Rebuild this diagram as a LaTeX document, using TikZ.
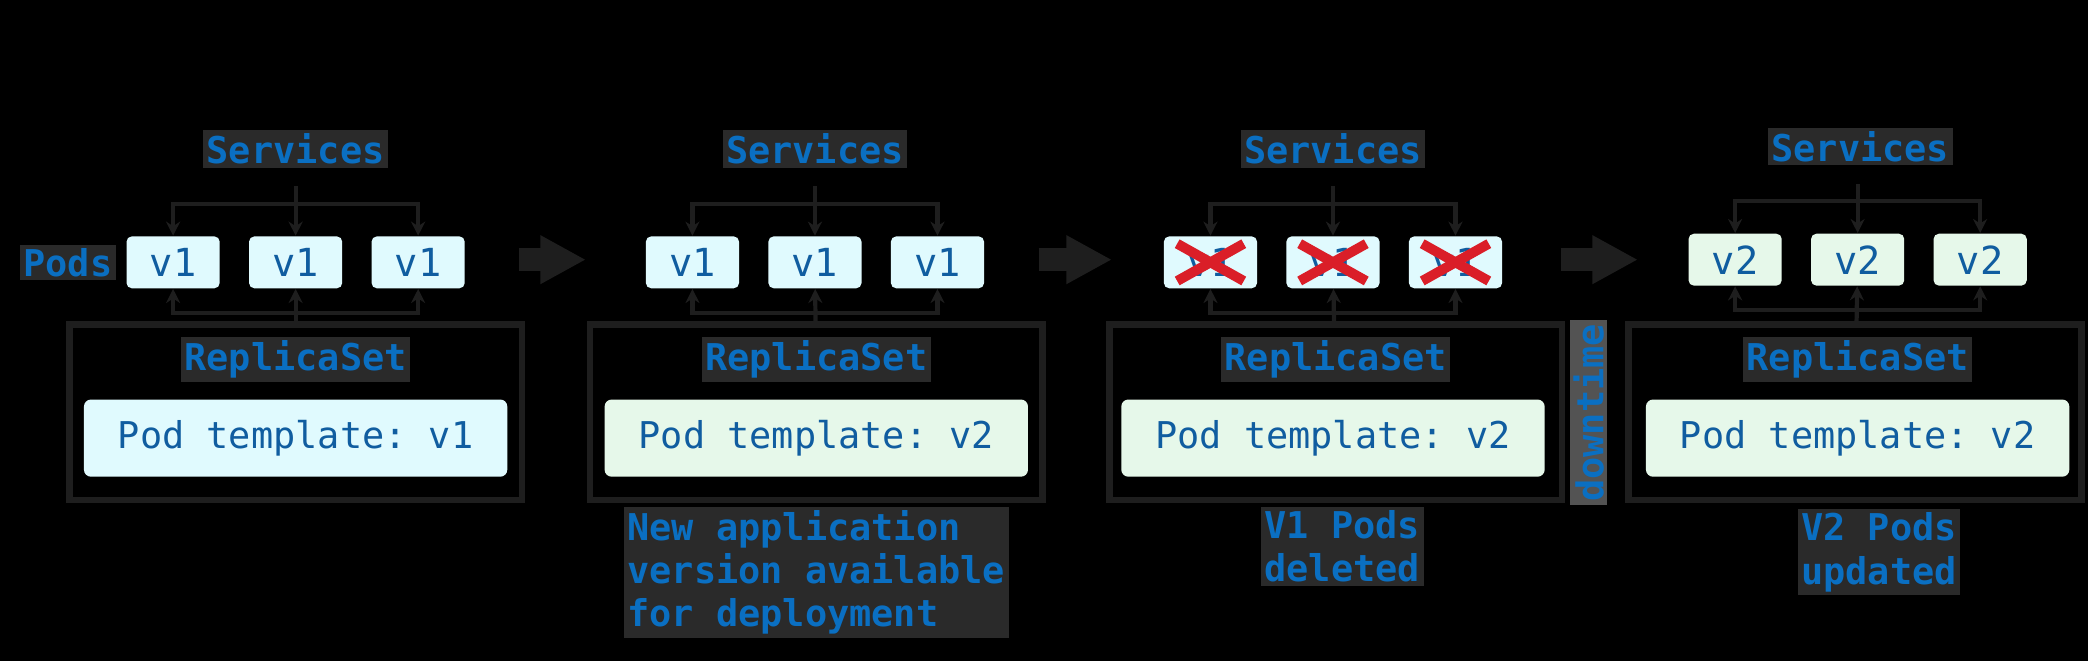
\documentclass[tikz,border=0pt]{standalone}
\usepackage{fontspec}
\setmonofont{DejaVu Sans Mono}
\usetikzlibrary{arrows.meta,positioning}
\definecolor{lblblue}{HTML}{0A6FC2}
\definecolor{podblue}{HTML}{105DA0}
\definecolor{cyanfill}{HTML}{E0FAFE}
\definecolor{greenfill}{HTML}{E6F8EA}
\definecolor{linegray}{HTML}{1E1E1E}
\definecolor{halo}{HTML}{2A2A2A}
\definecolor{xred}{HTML}{DA1E28}

\begin{document}
\begin{tikzpicture}[x=0.013316cm, y=-0.013316cm,
    every node/.style={font=\ttfamily\fontsize{10.5}{12.3}\selectfont},
    lbl/.style={text=lblblue, font=\ttfamily\bfseries\fontsize{10.5}{12.3}\selectfont, fill=halo, inner sep=1pt},
    pod/.style={fill=cyanfill, text=podblue, rounded corners=1.5pt, minimum width=0.932cm, minimum height=0.519cm, inner sep=0pt, font=\ttfamily\fontsize{11}{13}\selectfont},
    tmpl/.style={fill=cyanfill, text=podblue, rounded corners=2pt, minimum width=4.235cm, minimum height=0.772cm, inner sep=0pt},
    rs/.style={draw=linegray, line width=1.9pt, minimum width=4.53cm, minimum height=1.76cm},
    conn/.style={draw=linegray, line width=1.2pt, -{Stealth[length=4pt,width=4pt]}},
    big/.style={linegray, line width=6.4pt, -{Triangle[length=13pt,width=13pt]}},
    cross/.style={xred, line width=2.8pt}]
    \fill[black] (0,0) rectangle (1568,496.4);
    \useasboundingbox (0,0) rectangle (1568,496.4);

    % stage 1
    \node[lbl] (pods) at (51,197) {Pods};
    \node[lbl] (srv1) at (222,112) {Services};
    \node[pod] (p11) at (130,197) {v1};
    \node[pod] (p12) at (222,197) {v1};
    \node[pod] (p13) at (314,197) {v1};
    \node[rs] (rs1) at (222,309.5) {};
    \node[lbl] (rsl1) at (222,270) {ReplicaSet};
    \node[tmpl] (tp1) at (222,329) {Pod template: v1};
    \coordinate (t1) at (222,140); \coordinate (h1) at (222,153); \coordinate (b1) at (222,235);
    \draw[conn] (t1) -- (p12); \draw[conn] (h1) -| (p11); \draw[conn] (h1) -| (p13);
    \draw[conn] (rs1) -- (p12); \draw[conn] (b1) -| (p11); \draw[conn] (b1) -| (p13);

    % stage 2
    \node[lbl] (srv2) at (612,112) {Services};
    \node[pod] (p21) at (520,197) {v1};
    \node[pod] (p22) at (612,197) {v1};
    \node[pod] (p23) at (704,197) {v1};
    \node[rs] (rs2) at (613,309.5) {};
    \node[lbl] (rsl2) at (613,270) {ReplicaSet};
    \node[tmpl, fill=greenfill] (tp2) at (613,329) {Pod template: v2};
    \node[lbl, align=left, anchor=north west] (cap2) at (468,380) {New application\\version available\\for deployment};
    \coordinate (t2) at (612,140); \coordinate (h2) at (612,153); \coordinate (b2) at (612,235);
    \draw[conn] (t2) -- (p22); \draw[conn] (h2) -| (p21); \draw[conn] (h2) -| (p23);
    \draw[conn] (rs2) -- (p22); \draw[conn] (b2) -| (p21); \draw[conn] (b2) -| (p23);

    % stage 3
    \node[lbl] (srv3) at (1001,112) {Services};
    \node[pod] (p31) at (909,197) {v1};
    \node[pod] (p32) at (1001,197) {v1};
    \node[pod] (p33) at (1093,197) {v1};
    \node[rs] (rs3) at (1003,309.5) {};
    \node[lbl] (rsl3) at (1003,270) {ReplicaSet};
    \node[tmpl, fill=greenfill] (tp3) at (1001,329) {Pod template: v2};
    \node[lbl, align=left, anchor=north] (cap3) at (1008,380) {V1 Pods\\deleted};
    \coordinate (t3) at (1001,140); \coordinate (h3) at (1001,153); \coordinate (b3) at (1001,235);
    \draw[conn] (t3) -- (p32); \draw[conn] (h3) -| (p31); \draw[conn] (h3) -| (p33);
    \draw[conn] (rs3) -- (p32); \draw[conn] (b3) -| (p31); \draw[conn] (b3) -| (p33);
    \draw[cross] ([shift={(-25,-14)}]p31.center) -- ([shift={(25,14)}]p31.center);
    \draw[cross] ([shift={(-25,14)}]p31.center) -- ([shift={(25,-14)}]p31.center);
    \draw[cross] ([shift={(-25,-14)}]p32.center) -- ([shift={(25,14)}]p32.center);
    \draw[cross] ([shift={(-25,14)}]p32.center) -- ([shift={(25,-14)}]p32.center);
    \draw[cross] ([shift={(-25,-14)}]p33.center) -- ([shift={(25,14)}]p33.center);
    \draw[cross] ([shift={(-25,14)}]p33.center) -- ([shift={(25,-14)}]p33.center);
    \node[lbl, rotate=90, fill=gray!65!black] (down) at (1193,310) {downtime};

    % stage 4
    \node[lbl] (srv4) at (1397,110) {Services};
    \node[pod, fill=greenfill] (p41) at (1303,195) {v2};
    \node[pod, fill=greenfill] (p42) at (1395,195) {v2};
    \node[pod, fill=greenfill] (p43) at (1487,195) {v2};
    \node[rs] (rs4) at (1393,309.5) {};
    \node[lbl] (rsl4) at (1395,270) {ReplicaSet};
    \node[tmpl, fill=greenfill] (tp4) at (1395,329) {Pod template: v2};
    \node[lbl, align=left, anchor=north] (cap4) at (1411,382) {V2 Pods\\updated};
    \coordinate (t4) at (1395,138); \coordinate (h4) at (1395,151); \coordinate (b4) at (1395,233);
    \draw[conn] (t4) -- (p42); \draw[conn] (h4) -| (p41); \draw[conn] (h4) -| (p43);
    \draw[conn] (rs4) -- (p42); \draw[conn] (b4) -| (p41); \draw[conn] (b4) -| (p43);

    % stage arrows
    \coordinate (a1) at (390,195); \coordinate (a2) at (440,195);
    \coordinate (a3) at (780,195); \coordinate (a4) at (835,195);
    \coordinate (a5) at (1172,195); \coordinate (a6) at (1230,195);
    \draw[big] (a1) -- (a2);
    \draw[big] (a3) -- (a4);
    \draw[big] (a5) -- (a6);
\end{tikzpicture}
\end{document}
